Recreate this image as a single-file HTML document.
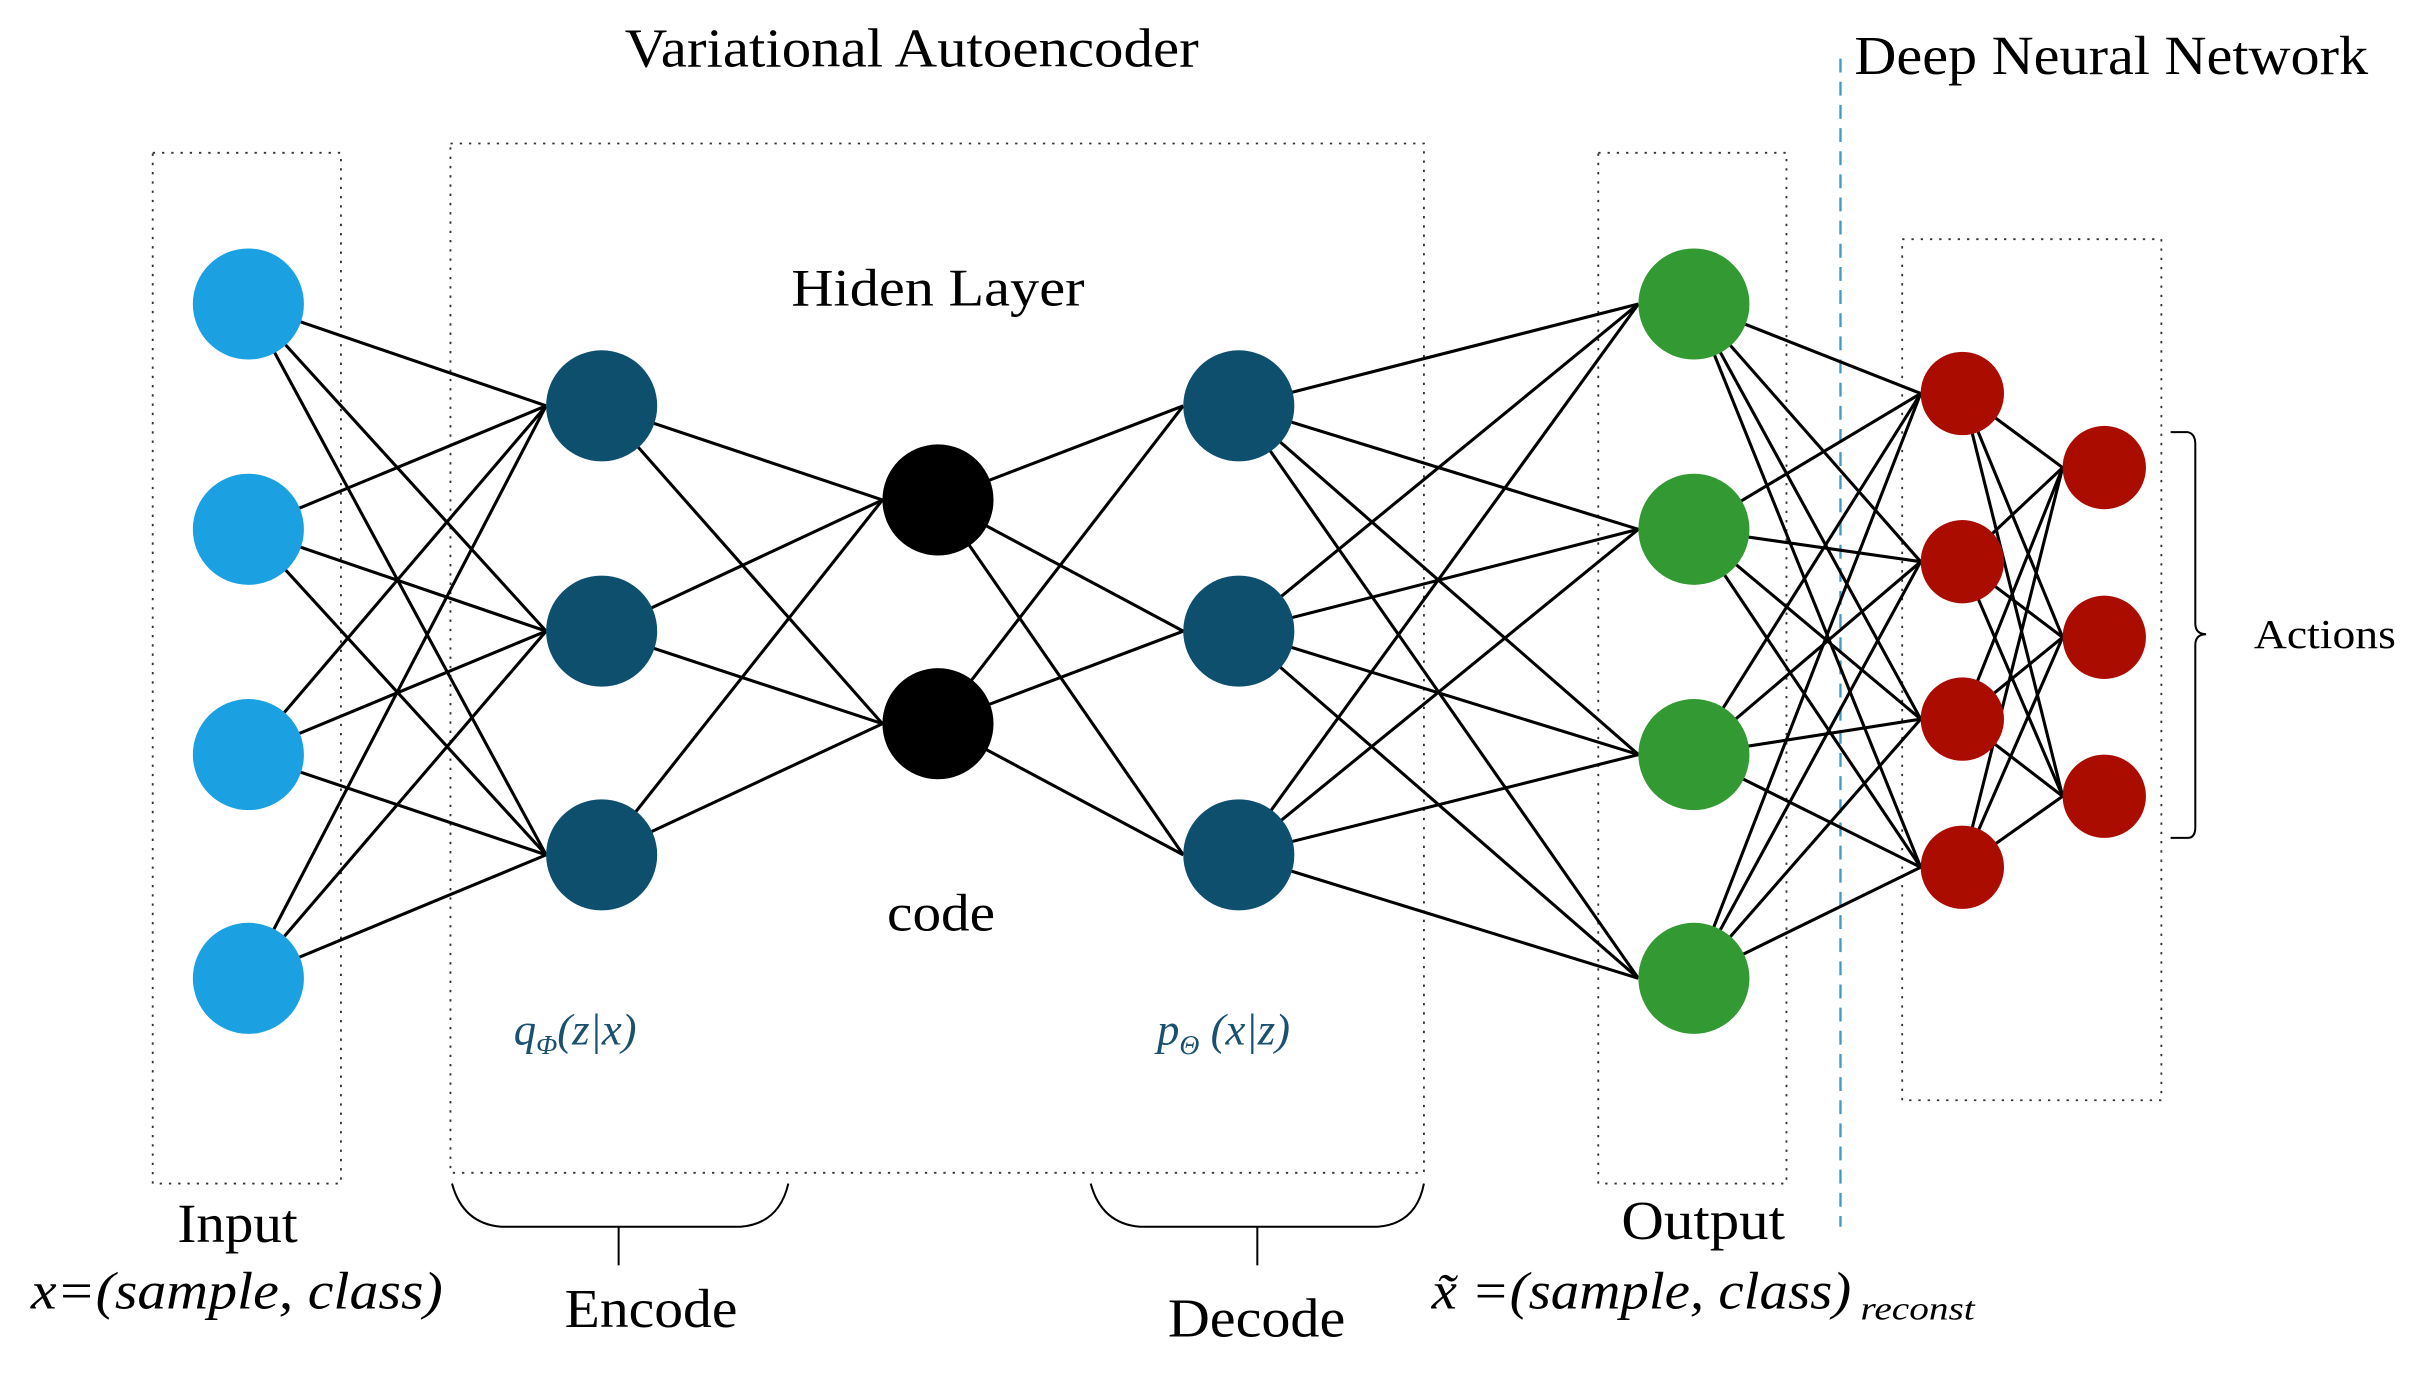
<!DOCTYPE html>
<html><head><meta charset="utf-8"><style>html,body{margin:0;padding:0;background:#fff}svg{display:block}</style></head>
<body>
<svg width="2419" height="1378" viewBox="0 0 1568 893" preserveAspectRatio="none" xmlns="http://www.w3.org/2000/svg" font-family="Liberation Serif, serif">
<g fill="none" stroke="#333" stroke-width="1.2" stroke-dasharray="1.5 4.5">
<rect x="99" y="99" width="122" height="668"/>
<rect x="292" y="93" width="631" height="667"/>
<rect x="1036" y="99" width="122" height="668"/>
<rect x="1233" y="155" width="168" height="558"/>
</g>
<line x1="1193" y1="38" x2="1193" y2="795" stroke="#3a9bc8" stroke-width="1.5" stroke-dasharray="9 6"/>
<g stroke="#000" stroke-width="2">
<line x1="161" y1="197" x2="354" y2="263"/><line x1="161" y1="197" x2="354" y2="409"/><line x1="161" y1="197" x2="354" y2="554"/>
<line x1="161" y1="343" x2="354" y2="263"/><line x1="161" y1="343" x2="354" y2="409"/><line x1="161" y1="343" x2="354" y2="554"/>
<line x1="161" y1="489" x2="354" y2="263"/><line x1="161" y1="489" x2="354" y2="409"/><line x1="161" y1="489" x2="354" y2="554"/>
<line x1="161" y1="634" x2="354" y2="263"/><line x1="161" y1="634" x2="354" y2="409"/><line x1="161" y1="634" x2="354" y2="554"/>
<line x1="390" y1="263" x2="572" y2="324"/><line x1="390" y1="263" x2="572" y2="469"/>
<line x1="390" y1="409" x2="572" y2="324"/><line x1="390" y1="409" x2="572" y2="469"/>
<line x1="390" y1="554" x2="572" y2="324"/><line x1="390" y1="554" x2="572" y2="469"/>
<line x1="608" y1="324" x2="767" y2="263"/><line x1="608" y1="324" x2="767" y2="409"/><line x1="608" y1="324" x2="767" y2="554"/>
<line x1="608" y1="469" x2="767" y2="263"/><line x1="608" y1="469" x2="767" y2="409"/><line x1="608" y1="469" x2="767" y2="554"/>
<line x1="803" y1="263" x2="1062" y2="197"/><line x1="803" y1="263" x2="1062" y2="343"/><line x1="803" y1="263" x2="1062" y2="489"/><line x1="803" y1="263" x2="1062" y2="634"/>
<line x1="803" y1="409" x2="1062" y2="197"/><line x1="803" y1="409" x2="1062" y2="343"/><line x1="803" y1="409" x2="1062" y2="489"/><line x1="803" y1="409" x2="1062" y2="634"/>
<line x1="803" y1="554" x2="1062" y2="197"/><line x1="803" y1="554" x2="1062" y2="343"/><line x1="803" y1="554" x2="1062" y2="489"/><line x1="803" y1="554" x2="1062" y2="634"/>
<line x1="1098" y1="197" x2="1245" y2="255"/><line x1="1098" y1="197" x2="1245" y2="364"/><line x1="1098" y1="197" x2="1245" y2="466"/><line x1="1098" y1="197" x2="1245" y2="562"/>
<line x1="1098" y1="343" x2="1245" y2="255"/><line x1="1098" y1="343" x2="1245" y2="364"/><line x1="1098" y1="343" x2="1245" y2="466"/><line x1="1098" y1="343" x2="1245" y2="562"/>
<line x1="1098" y1="489" x2="1245" y2="255"/><line x1="1098" y1="489" x2="1245" y2="364"/><line x1="1098" y1="489" x2="1245" y2="466"/><line x1="1098" y1="489" x2="1245" y2="562"/>
<line x1="1098" y1="634" x2="1245" y2="255"/><line x1="1098" y1="634" x2="1245" y2="364"/><line x1="1098" y1="634" x2="1245" y2="466"/><line x1="1098" y1="634" x2="1245" y2="562"/>
<line x1="1272" y1="255" x2="1337" y2="303"/><line x1="1272" y1="255" x2="1337" y2="413"/><line x1="1272" y1="255" x2="1337" y2="516"/>
<line x1="1272" y1="364" x2="1337" y2="303"/><line x1="1272" y1="364" x2="1337" y2="413"/><line x1="1272" y1="364" x2="1337" y2="516"/>
<line x1="1272" y1="466" x2="1337" y2="303"/><line x1="1272" y1="466" x2="1337" y2="413"/><line x1="1272" y1="466" x2="1337" y2="516"/>
<line x1="1272" y1="562" x2="1337" y2="303"/><line x1="1272" y1="562" x2="1337" y2="413"/><line x1="1272" y1="562" x2="1337" y2="516"/>
</g>
<g fill="#1ba1e2"><circle cx="161" cy="197" r="36"/><circle cx="161" cy="343" r="36"/><circle cx="161" cy="489" r="36"/><circle cx="161" cy="634" r="36"/></g>
<g fill="#0f4f6e"><circle cx="390" cy="263" r="36"/><circle cx="390" cy="409" r="36"/><circle cx="390" cy="554" r="36"/>
<circle cx="803" cy="263" r="36"/><circle cx="803" cy="409" r="36"/><circle cx="803" cy="554" r="36"/></g>
<g fill="#000"><circle cx="608" cy="324" r="36"/><circle cx="608" cy="469" r="36"/></g>
<g fill="#339933"><circle cx="1098" cy="197" r="36"/><circle cx="1098" cy="343" r="36"/><circle cx="1098" cy="489" r="36"/><circle cx="1098" cy="634" r="36"/></g>
<g fill="#aa0d00"><circle cx="1272" cy="255" r="27"/><circle cx="1272" cy="364" r="27"/><circle cx="1272" cy="466" r="27"/><circle cx="1272" cy="562" r="27"/>
<circle cx="1364" cy="303" r="27"/><circle cx="1364" cy="413" r="27"/><circle cx="1364" cy="516" r="27"/></g>
<g font-size="36" fill="#000" lengthAdjust="spacingAndGlyphs">
<text x="405" y="43" textLength="372" lengthAdjust="spacingAndGlyphs">Variational Autoencoder</text>
<text x="1202" y="48" textLength="333" lengthAdjust="spacingAndGlyphs">Deep Neural Network</text>
<text x="513" y="198" font-size="34" textLength="190" lengthAdjust="spacingAndGlyphs">Hiden Layer</text>
<text x="575" y="603" font-size="34" textLength="70" lengthAdjust="spacingAndGlyphs">code</text>
<text x="115" y="805" textLength="78" lengthAdjust="spacingAndGlyphs">Input</text>
<text x="20" y="848" font-style="italic" font-size="34" textLength="267" lengthAdjust="spacingAndGlyphs">x=(sample, class)</text>
<text x="366" y="860" textLength="112" lengthAdjust="spacingAndGlyphs">Encode</text>
<text x="757" y="866" textLength="115" lengthAdjust="spacingAndGlyphs">Decode</text>
<text x="1051" y="803" textLength="106" lengthAdjust="spacingAndGlyphs">Output</text>
<text x="928" y="848" font-style="italic" font-size="34" textLength="272" lengthAdjust="spacingAndGlyphs">x̃ =(sample, class)</text>
<text x="1206" y="855" font-style="italic" font-size="21" textLength="74" lengthAdjust="spacingAndGlyphs">reconst</text>
<text x="1461" y="420" font-size="27" textLength="92" lengthAdjust="spacingAndGlyphs">Actions</text>
</g>
<g font-style="italic" font-size="29" fill="#1a5070">
<text x="333" y="677">q<tspan font-size="18" dy="6">Φ</tspan><tspan dy="-6">(z|x)</tspan></text>
<text x="750" y="677">p<tspan font-size="18" dy="6">Θ</tspan><tspan dy="-6"> (x|z)</tspan></text>
</g>
<g fill="none" stroke="#000" stroke-width="1.3">
<path d="M293 767 Q300 793 325 795 L480 795 Q505 793 511 767"/>
<line x1="401" y1="795" x2="401" y2="820"/>
<path d="M707 767 Q714 793 739 795 L893 795 Q918 793 923 767"/>
<line x1="815" y1="795" x2="815" y2="820"/>
<path d="M1407 280 L1418 280 Q1423 281 1423 288 L1423 404 Q1423 411 1430 411 Q1423 411 1423 418 L1423 536 Q1423 543 1418 543 L1407 543"/>
</g>
</svg>
</body></html>
